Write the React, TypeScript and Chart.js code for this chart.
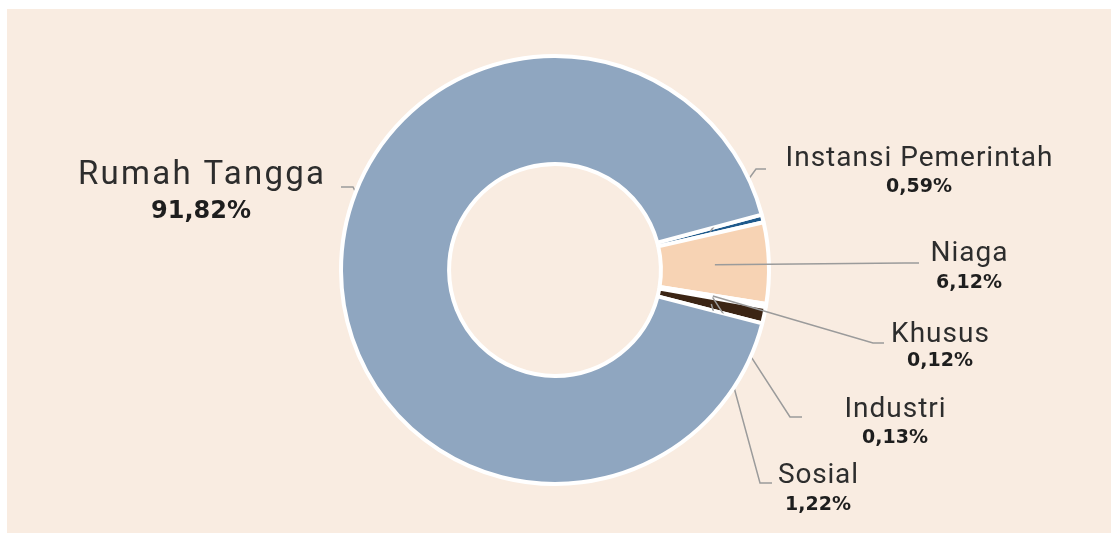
import React, { useEffect, useRef } from "react";
import { Chart, registerables } from "chart.js";

Chart.register(...registerables);

const categories = ["Instansi Pemerintah", "Niaga", "Khusus", "Industri", "Sosial", "Rumah Tangga"];
const shares = [0.59, 6.12, 0.12, 0.13, 1.22, 91.82];
const shareLabels = ["0,59%", "6,12%", "0,12%", "0,13%", "1,22%", "91,82%"];
const sliceColors = ["#1f5a8c", "#f7d3b4", "#b89a7e", "#6b4a32", "#3c2514", "#8fa6c0"];

// label layout in page pixels: elbow point, line end, text centre x, name baseline, percent centre y, sizes, letter spacing
const labelLayout = [
  { ex: 756, ey: 169, lx: 766, ly: 169, tx: 919, ny: 166, py: 187, ns: 28, ps: 19, nls: 1, pls: 0 },
  { ex: 905, ey: 263, lx: 919, ly: 263, tx: 969, ny: 261, py: 283, ns: 28, ps: 19, nls: 1, pls: 0 },
  { ex: 873, ey: 343, lx: 884, ly: 343, tx: 940, ny: 342, py: 361, ns: 28, ps: 19, nls: 1, pls: 0 },
  { ex: 790, ey: 417, lx: 802, ly: 417, tx: 895, ny: 417, py: 438, ns: 28, ps: 19, nls: 1, pls: 0 },
  { ex: 760, ey: 483, lx: 772, ly: 483, tx: 818, ny: 483, py: 505, ns: 28, ps: 19, nls: 0.8, pls: 0 },
  { ex: 353, ey: 187, lx: 341, ly: 187, tx: 201, ny: 184, py: 212, ns: 33, ps: 24, nls: 2.3, pls: 0 },
];

const BOX_X = 7;
const BOX_Y = 9;
const BOX_W = 1104;
const BOX_H = 524;
const FONT = "Roboto, 'DejaVu Sans', sans-serif";
const PCT_FONT = "'DejaVu Sans', sans-serif";
const MAIN_INDEX = 5;

function drawSpaced(ctx: any, text: string, cx: number, y: number, spacing: number) {
  ctx.letterSpacing = `${spacing}px`;
  const w = ctx.measureText(text).width - spacing;
  ctx.textAlign = "left";
  ctx.fillText(text, cx - w / 2, y);
  ctx.letterSpacing = "0px";
}

const labelPlugin = {
  id: "leaderLabels",
  afterDatasetsDraw(chart: any) {
    const ctx = chart.ctx;
    const meta = chart.getDatasetMeta(0);
    const main = meta.data[MAIN_INDEX];
    const mp = main.getProps(["x", "y", "startAngle", "endAngle", "innerRadius", "outerRadius"], true);

    // leader lines, hidden where they cross the main slice
    ctx.save();
    ctx.beginPath();
    ctx.rect(0, 0, chart.width, chart.height);
    ctx.moveTo(mp.x + (mp.outerRadius + 2) * Math.cos(mp.startAngle), mp.y + (mp.outerRadius + 2) * Math.sin(mp.startAngle));
    ctx.arc(mp.x, mp.y, mp.outerRadius + 2, mp.startAngle, mp.endAngle);
    ctx.arc(mp.x, mp.y, Math.max(mp.innerRadius - 2, 0), mp.endAngle, mp.startAngle, true);
    ctx.closePath();
    ctx.clip("evenodd");
    meta.data.forEach((arc: any, i: number) => {
      const L = labelLayout[i];
      const p = arc.tooltipPosition();
      ctx.strokeStyle = "#9b9b9b";
      ctx.lineWidth = 1.5;
      ctx.beginPath();
      ctx.moveTo(p.x, p.y);
      ctx.lineTo(L.ex - BOX_X, L.ey - BOX_Y);
      ctx.lineTo(L.lx - BOX_X, L.ly - BOX_Y);
      ctx.stroke();
    });
    ctx.restore();

    ctx.save();
    meta.data.forEach((_arc: any, i: number) => {
      const L = labelLayout[i];
      ctx.textBaseline = "alphabetic";
      ctx.fillStyle = "#2d2d2d";
      ctx.font = `400 ${L.ns}px ${FONT}`;
      drawSpaced(ctx, categories[i], L.tx - BOX_X, L.ny - BOX_Y, L.nls);
      ctx.textBaseline = "middle";
      ctx.fillStyle = "#1e1e1e";
      ctx.font = `700 ${L.ps}px ${PCT_FONT}`;
      drawSpaced(ctx, shareLabels[i], L.tx - BOX_X, L.py - BOX_Y, L.pls);
    });
    ctx.restore();
  },
};

export default function App() {
  const ref = useRef<HTMLCanvasElement>(null);
  useEffect(() => {
    if (!ref.current) return;
    const chart = new Chart(ref.current, {
      type: "doughnut",
      data: {
        labels: categories,
        datasets: [
          {
            data: shares,
            backgroundColor: sliceColors,
            borderColor: "#ffffff",
            borderWidth: 4,
          },
        ],
      },
      options: {
        responsive: false,
        animation: false,
        rotation: 75,
        radius: 214,
        cutout: "49.5%",
        layout: { padding: { right: 8, bottom: 2 } },
        plugins: {
          legend: { display: false },
          tooltip: { enabled: false },
        },
      },
      plugins: [labelPlugin],
    });
    return () => chart.destroy();
  }, []);

  return (
    <div
      style={{
        position: "absolute",
        left: BOX_X,
        top: BOX_Y,
        width: BOX_W,
        height: BOX_H,
        background: "#f9ece1",
      }}
    >
      <canvas ref={ref} width={BOX_W} height={BOX_H} style={{ display: "block" }} />
    </div>
  );
}
